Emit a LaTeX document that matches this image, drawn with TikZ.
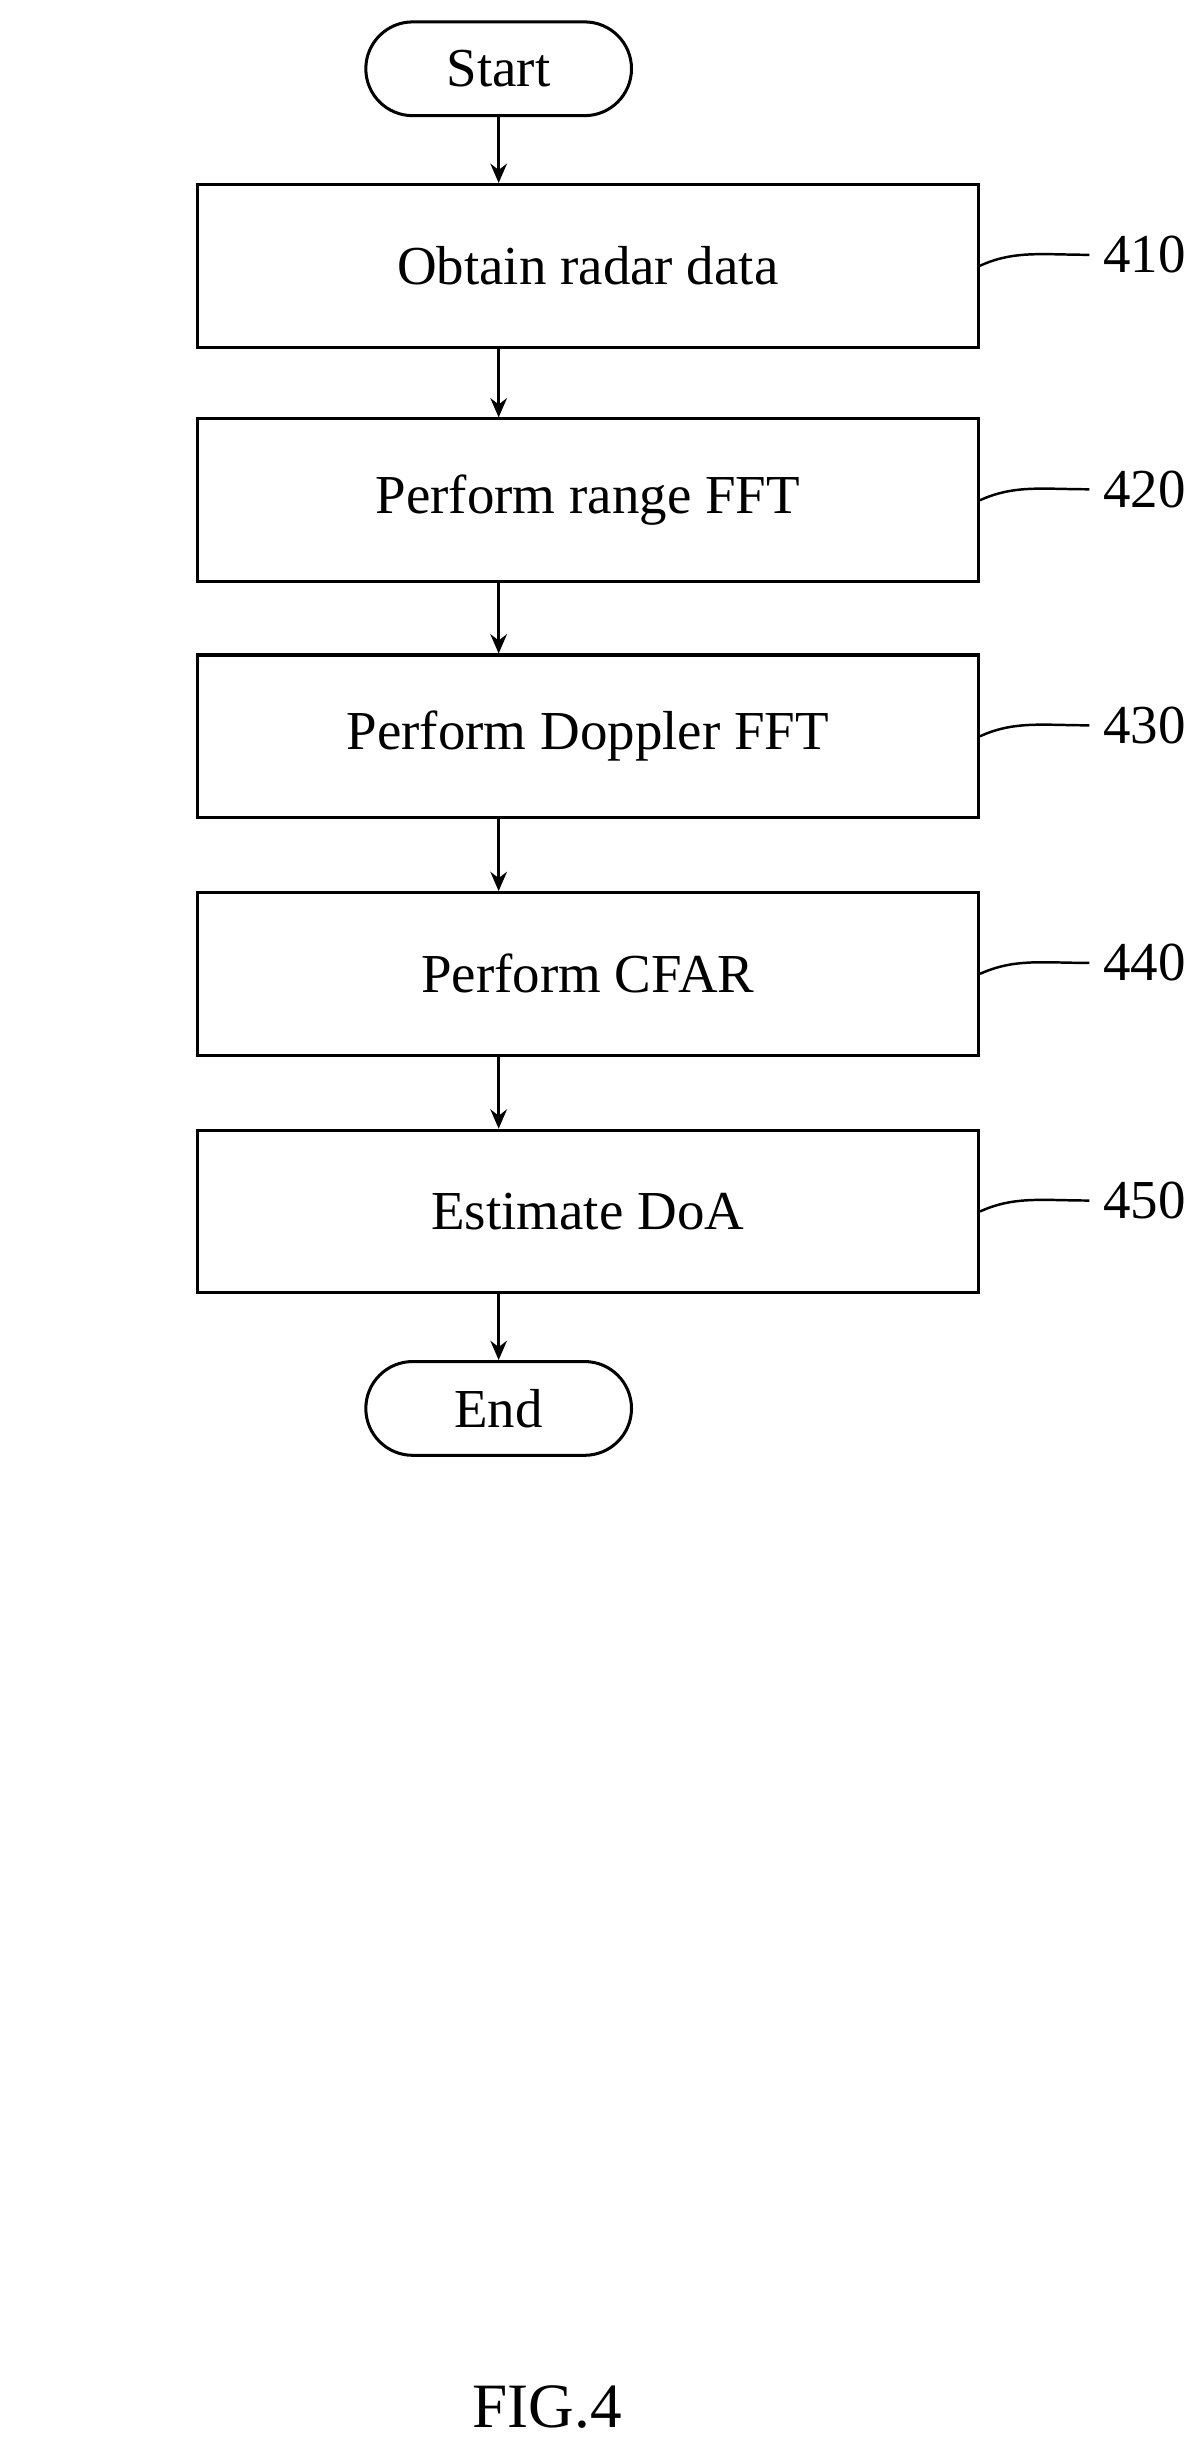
\documentclass[tikz,border=0pt]{standalone}
\usepackage{fontspec}
\setmainfont{Liberation Serif}
\usetikzlibrary{shapes.misc,arrows.meta}
\begin{document}
\begin{tikzpicture}[x=0.02cm,y=-0.02cm,line width=1.1pt,
  box/.style={draw,minimum width=10cm,minimum height=2.08cm,font=\fontsize{20}{24}\selectfont,inner sep=0pt},
  term/.style={draw,rounded rectangle,minimum width=3.4cm,minimum height=1.2cm,font=\fontsize{20}{24}\selectfont,inner sep=0pt},
  arr/.style={-{Stealth[length=7pt,width=6pt]}},
  lab/.style={font=\fontsize{20}{24}\selectfont,anchor=west}]
\useasboundingbox (0,0) rectangle (769,1575);
\node[term] (start) at (319,44) {Start};
\node[box] (b1) at (376,170) {Obtain radar data};
\node[box] (b2) at (376,320) {Perform range FFT};
\node[box] (b3) at (376,471) {Perform Doppler FFT};
\node[box] (b4) at (376,623) {Perform CFAR};
\node[box] (b5) at (376,775) {Estimate DoA};
\node[term] (end) at (319,901) {End};
\foreach \a/\b in {start/b1,b1/b2,b2/b3,b3/b4,b4/b5,b5/end}
  \draw[arr] (\a.south -| 319,0) -- (\b.north -| 319,0);
\foreach \n/\t in {b1/410,b2/420,b3/430,b4/440,b5/450}{
  \coordinate (c\t) at ([xshift=70*0.02cm,yshift=7*0.02cm]\n.east);
  \draw[line width=0.9pt] (\n.east) .. controls +(22*0.02cm,10*0.02cm) and +(-30*0.02cm,0) .. (c\t);
  \node[lab] (l\t) at ([xshift=2*0.02cm]c\t) {\t};
}
\node[font=\fontsize{23}{26}\selectfont] (fig) at (350,1540) {FIG.4};
\end{tikzpicture}
\end{document}
